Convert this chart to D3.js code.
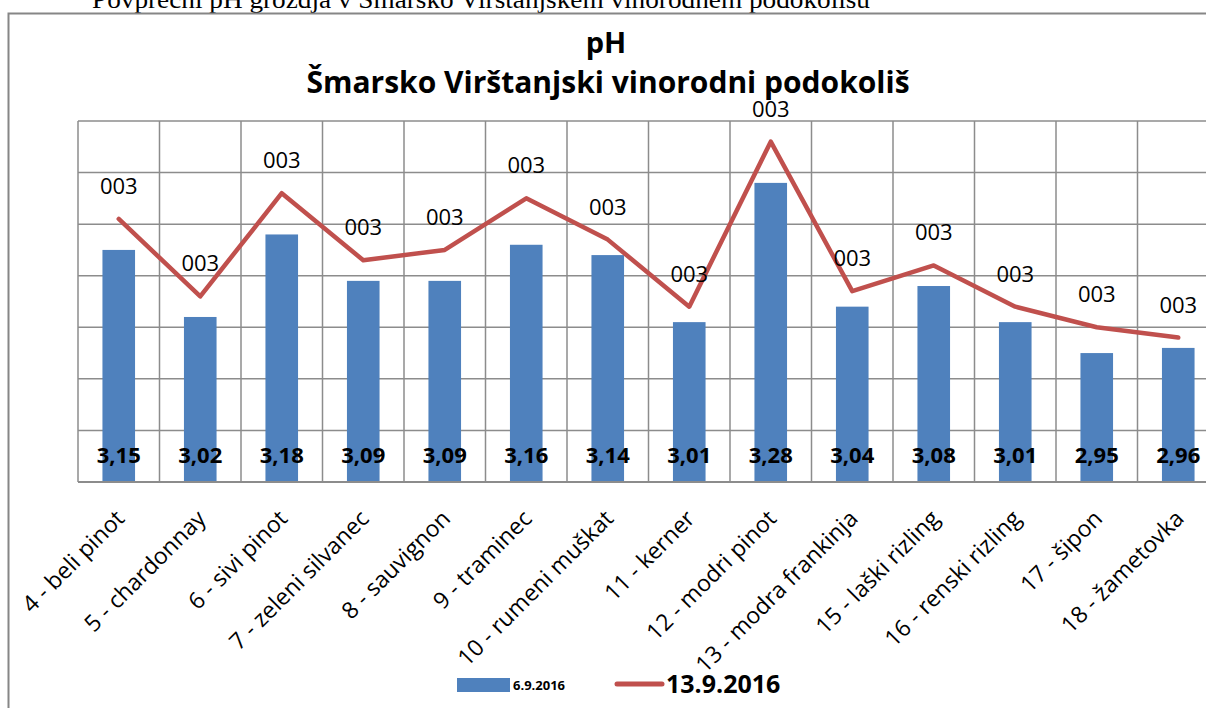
<!DOCTYPE html>
<html>
<head>
<meta charset="utf-8">
<script src="https://cdn.jsdelivr.net/npm/d3@7"></script>
<style>
  body { margin: 0; background: #fff; overflow: hidden; }
  svg { display: block; }
</style>
</head>
<body>
<div class="canvas"></div>
<script>
const categories = ['4 - beli pinot', '5 - chardonnay', '6 - sivi pinot', '7 - zeleni silvanec',
    '8 - sauvignon', '9 - traminec', '10 - rumeni muškat', '11 - kerner', '12 - modri pinot',
    '13 - modra frankinja', '15 - laški rizling', '16 - renski rizling', '17 - šipon', '18 - žametovka'];
const barValues = [3.15, 3.02, 3.18, 3.09, 3.09, 3.16, 3.14, 3.01, 3.28, 3.04, 3.08, 3.01, 2.95, 2.96];
const lineValues = [3.21, 3.06, 3.26, 3.13, 3.15, 3.25, 3.17, 3.04, 3.36, 3.07, 3.12, 3.04, 3.00, 2.98];
const yTicks = [2.7, 2.8, 2.9, 3.0, 3.1, 3.2, 3.3, 3.4];
const seriesNames = ['6.9.2016', '13.9.2016'];

const dims = { width: 1206, height: 708 };
const plot = { left: 78, right: 1219, top: 121, bottom: 482 };

const svg = d3.select('.canvas')
    .append('svg')
    .attr('width', dims.width)
    .attr('height', dims.height)

// page text above the chart (cut off)
svg.append('text')
    .attr('x', 92)
    .attr('y', 8)
    .attr('font-family', 'Liberation Serif, serif')
    .attr('font-size', 25)
    .attr('textLength', 778)
    .attr('lengthAdjust', 'spacingAndGlyphs')
    .text('Povprečni pH grozdja  v Šmarsko Virštanjskem vinorodnem podokolišu')

// chart frame
svg.append('path')
    .attr('d', `M8.5,${dims.height} V13.5 H${dims.width}`)
    .attr('fill', 'none')
    .attr('stroke', '#868686')
    .attr('stroke-width', 2)

// titles
const font = '"Open Sans", sans-serif';
svg.append('text')
    .attr('x', 606).attr('y', 53)
    .attr('text-anchor', 'middle')
    .attr('font-family', font)
    .attr('font-weight', 'bold')
    .attr('font-size', 29)
    .text('pH')
svg.append('text')
    .attr('x', 608).attr('y', 93)
    .attr('text-anchor', 'middle')
    .attr('font-family', font)
    .attr('font-weight', 'bold')
    .attr('font-size', 30)
    .text('Šmarsko Virštanjski vinorodni podokoliš')

// scales
const x = d3.scaleBand()
    .domain(categories)
    .range([plot.left, plot.right])
    .paddingInner(0)
    .paddingOuter(0)

const y = d3.scaleLinear()
    .domain([2.7, 3.4])
    .range([plot.bottom, plot.top])

const graph = svg.append('g')

// horizontal grid
graph.selectAll('.hgrid')
    .data(yTicks)
    .enter()
    .append('line')
    .attr('class', 'hgrid')
    .attr('x1', plot.left).attr('x2', plot.right)
    .attr('y1', d => y(d)).attr('y2', d => y(d))
    .attr('stroke', '#8c8c8c')
    .attr('stroke-width', 1.5)

// vertical grid at category boundaries
const bounds = categories.map(c => x(c)).concat([plot.right]);
graph.selectAll('.vgrid')
    .data(bounds)
    .enter()
    .append('line')
    .attr('class', 'vgrid')
    .attr('x1', d => d).attr('x2', d => d)
    .attr('y1', plot.top).attr('y2', plot.bottom)
    .attr('stroke', '#8c8c8c')
    .attr('stroke-width', 1.5)

// bars
const barW = x.bandwidth() * 0.4;
graph.selectAll('.bar')
    .data(barValues)
    .enter()
    .append('rect')
    .attr('class', 'bar')
    .attr('x', (d, i) => x(categories[i]) + x.bandwidth() / 2 - barW / 2)
    .attr('width', barW)
    .attr('y', d => y(d))
    .attr('height', d => plot.bottom - y(d))
    .attr('fill', '#4f81bd')

// baseline
graph.append('line')
    .attr('x1', plot.left).attr('x2', plot.right)
    .attr('y1', plot.bottom).attr('y2', plot.bottom)
    .attr('stroke', '#8c8c8c')
    .attr('stroke-width', 2)

// bar labels
const fmt = v => v.toFixed(2).replace('.', ',');
graph.selectAll('.barlabel')
    .data(barValues)
    .enter()
    .append('text')
    .attr('x', (d, i) => x(categories[i]) + x.bandwidth() / 2)
    .attr('y', 463)
    .attr('text-anchor', 'middle')
    .attr('font-family', font)
    .attr('font-weight', 'bold')
    .attr('font-size', 22)
    .text(d => fmt(d))

// line
const line = d3.line()
    .x((d, i) => x(categories[i]) + x.bandwidth() / 2)
    .y(d => y(d))

graph.append('path')
    .datum(lineValues)
    .attr('d', line)
    .attr('fill', 'none')
    .attr('stroke', '#c0504d')
    .attr('stroke-width', 4.5)
    .attr('stroke-linejoin', 'round')
    .attr('stroke-linecap', 'round')

// line labels (formatted oddly as in source)
graph.selectAll('.linelabel')
    .data(lineValues)
    .enter()
    .append('text')
    .attr('x', (d, i) => x(categories[i]) + x.bandwidth() / 2)
    .attr('y', d => y(d) - 25)
    .attr('text-anchor', 'middle')
    .attr('font-family', font)
    .attr('font-size', 22)
    .text('003')

// x labels rotated
graph.selectAll('.xlabel')
    .data(categories)
    .enter()
    .append('text')
    .attr('text-anchor', 'end')
    .attr('font-family', font)
    .attr('font-size', 23)
    .attr('transform', d => `translate(${x(d) + x.bandwidth() / 2 + 7}, 520) rotate(-45)`)
    .text(d => d)

// legend
const legend = svg.append('g')
legend.append('rect')
    .attr('x', 457).attr('y', 678)
    .attr('width', 53).attr('height', 14)
    .attr('fill', '#4f81bd')
legend.append('text')
    .attr('x', 513).attr('y', 690)
    .attr('font-family', font)
    .attr('font-weight', 'bold')
    .attr('font-size', 13)
    .text(seriesNames[0])
legend.append('line')
    .attr('x1', 617).attr('x2', 662)
    .attr('y1', 684).attr('y2', 684)
    .attr('stroke', '#c0504d')
    .attr('stroke-width', 5)
    .attr('stroke-linecap', 'round')
legend.append('text')
    .attr('x', 666).attr('y', 693)
    .attr('font-family', font)
    .attr('font-weight', 'bold')
    .attr('font-size', 25)
    .text(seriesNames[1])
</script>
</body>
</html>
